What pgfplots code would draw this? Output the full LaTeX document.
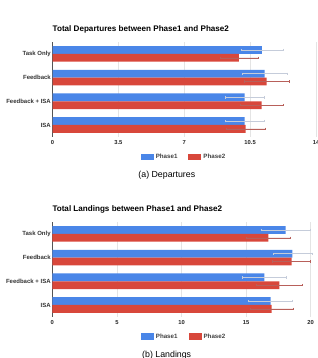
\documentclass[border=0pt]{standalone}
\usepackage{pgfplots}
\pgfplotsset{compat=1.18}
\usepackage{fontspec}
\setmainfont{Liberation Sans}
\definecolor{pone}{HTML}{4A86E8}
\definecolor{ptwo}{HTML}{D8473B}
\definecolor{eone}{HTML}{C5CCDA}
\definecolor{etwo}{HTML}{B8605A}
\definecolor{gridc}{HTML}{E4E4E4}
\definecolor{axc}{HTML}{555555}
\pgfplotsset{
  mybar/.style={
    scale only axis,
    xbar, bar width=7.8pt,
    ymin=-0.5, ymax=3.5,
    ytick={0,1,2,3},
    yticklabels={ISA,Feedback + ISA,Feedback,Task Only},
    yticklabel style={font=\fontsize{6}{7}\selectfont\bfseries, text=black!80, inner xsep=1.5pt},
    xticklabel style={font=\fontsize{5.8}{6}\selectfont\bfseries, text=black!85, /pgf/number format/assume math mode=true},
    axis x line*=bottom, axis y line*=left,
    x axis line style={draw=none},
    y axis line style={draw=axc, line width=0.6pt},
    major tick length=0pt,
    xmajorgrids, major grid style={gridc, line width=0.5pt},
    legend columns=2,
    legend style={draw=none, fill=none, font=\fontsize{6.2}{7}\selectfont\bfseries, text=black!75,
      /tikz/every even column/.append style={column sep=9pt}},
    legend image code/.code={\fill[##1,draw=none] (0pt,-3pt) rectangle (13pt,3.5pt);},
    clip=false,
  },
  e1/.style={error bars/.cd, x dir=both, x explicit, error mark options={rotate=90, mark size=1.2pt, eone}, error bar style={eone, line width=0.6pt}},
  e2/.style={error bars/.cd, x dir=both, x explicit, error mark options={rotate=90, mark size=1.2pt, etwo}, error bar style={etwo, line width=0.6pt}},
}
\begin{document}
\begin{tikzpicture}[x=1pt,y=1pt]
\clip (0,0) rectangle (317,358);
\useasboundingbox (0,0) rectangle (317,358);
% top chart
\begin{axis}[mybar, at={(52.5pt,221.2pt)}, anchor=south west,
  width=263.5pt, height=94.7pt, xmin=0, xmax=14,
  xtick={0,3.5,7,10.5,14}, xticklabels={0,3.5,7,10.5,14},
  legend style={at={(0.499,-0.215)}, anchor=center}]
\addplot[fill=pone, draw=none, bar shift=3.9pt, e1] coordinates {
  (10.21,0) +- (1.02,0)
  (10.21,1) +- (1.02,0)
  (11.27,2) +- (1.18,0)
  (11.12,3) +- (1.12,0)
};
\addlegendentry{Phase1}
\addplot[fill=ptwo, draw=none, bar shift=-3.9pt, e2] coordinates {
  (10.26,0) +- (1.04,0)
  (11.11,1) +- (1.13,0)
  (11.37,2) +- (1.19,0)
  (9.90,3) +- (1.01,0)
};
\addlegendentry{Phase2}
\end{axis}
\node[anchor=west, font=\fontsize{8.1}{9}\selectfont\bfseries, inner sep=0pt] at (52.5,328.7) {Total Departures between Phase1 and Phase2};
\node[font=\fontsize{8.8}{10}\selectfont, inner sep=0pt] at (166.8,183) {(a) Departures};
% bottom chart
\begin{axis}[mybar, at={(52.3pt,41.2pt)}, anchor=south west,
  width=258.4pt, height=94.7pt, xmin=0, xmax=20,
  xtick={0,5,10,15,20},
  legend style={at={(0.51,-0.21)}, anchor=center}]
\addplot[fill=pone, draw=none, bar shift=3.9pt, e1] coordinates {
  (16.90,0) +- (1.70,0)
  (16.41,1) +- (1.73,0)
  (18.59,2) +- (1.50,0)
  (18.06,3) +- (1.88,0)
};
\addlegendentry{Phase1}
\addplot[fill=ptwo, draw=none, bar shift=-3.9pt, e2] coordinates {
  (16.98,0) +- (1.70,0)
  (17.57,1) +- (1.81,0)
  (18.52,2) +- (1.47,0)
  (16.72,3) +- (1.73,0)
};
\addlegendentry{Phase2}
\end{axis}
\node[anchor=west, font=\fontsize{8.1}{9}\selectfont\bfseries, inner sep=0pt] at (52.3,148.7) {Total Landings between Phase1 and Phase2};
\node[font=\fontsize{8.8}{10}\selectfont, inner sep=0pt] at (166.7,3) {(b) Landings};
\end{tikzpicture}
\end{document}
